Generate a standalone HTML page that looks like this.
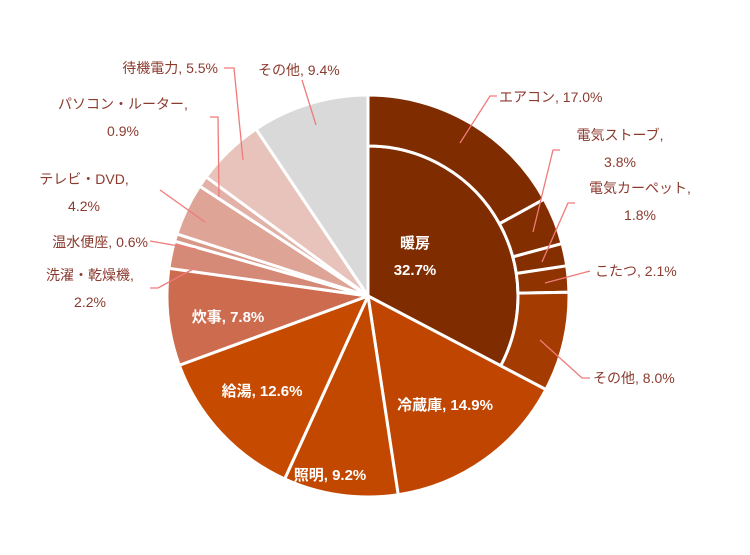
<!DOCTYPE html>
<html><head><meta charset="utf-8"><style>
body{margin:0;background:#fff;}
svg text{font-family:"Liberation Sans","Noto Sans CJK JP",sans-serif;font-size:14px;}
.o{fill:#8b3a2e;}
.i{fill:#fff;font-weight:bold;font-size:15px;}
.l{stroke:#f07a7a;stroke-width:1.3;fill:none;}
</style></head><body>
<svg id="c" width="750" height="550"></svg>
<script>
const categories=["暖房","冷蔵庫","照明","給湯","炊事","洗濯・乾燥機","温水便座","テレビ・DVD","パソコン・ルーター","待機電力","その他"];
const values=[32.7,14.9,9.2,12.6,7.8,2.2,0.6,4.2,0.9,5.5,9.4];
const colors=["#7f2c00","#bf4500","#c24800","#c64a00","#cd6b4f","#d58a78","#d89888","#dea496","#e2b2a8","#e8c3bc","#d9d9d9"];
const subCategories=["エアコン","電気ストーブ","電気カーペット","こたつ","その他"];
const subValues=[17.0,3.8,1.8,2.1,8.0];
const subColors=["#7f2c00","#822e00","#852f00","#8f3300","#a43b00"];
const cx=368,cy=296,R=201,r0=150;
const svg=document.getElementById('c');
const NS="http://www.w3.org/2000/svg";
function ang(p){return p/100*2*Math.PI-Math.PI/2;}
function pt(a,r){return [cx+r*Math.cos(a),cy+r*Math.sin(a)];}
function sector(a0,a1,ri,ro){
  const lg=(a1-a0)>Math.PI?1:0;
  const p0=pt(a0,ro),p1=pt(a1,ro);
  if(ri<=0)return `M${cx},${cy}L${p0}A${ro},${ro} 0 ${lg} 1 ${p1}Z`;
  const q0=pt(a1,ri),q1=pt(a0,ri);
  return `M${p0}A${ro},${ro} 0 ${lg} 1 ${p1}L${q0}A${ri},${ri} 0 ${lg} 0 ${q1}Z`;
}
function add(tag,attrs,txt){const e=document.createElementNS(NS,tag);for(const k in attrs)e.setAttribute(k,attrs[k]);if(txt!=null)e.textContent=txt;svg.appendChild(e);return e;}
let cum=0;
values.forEach((v,i)=>{
  const a0=ang(cum),a1=ang(cum+v);cum+=v;
  const ro=i===0?r0:R;
  const e=add('path',{d:sector(a0,a1,0,ro),fill:colors[i],stroke:'#fff','stroke-width':3,'stroke-linejoin':'round'});
  
  
});
cum=0;
subValues.forEach((v,i)=>{
  const a0=ang(cum),a1=ang(cum+v);cum+=v;
  const e=add('path',{d:sector(a0,a1,r0,R),fill:subColors[i],stroke:'#fff','stroke-width':3});
  
  
});
// leader lines
const leaders=[
 "M460,143L490,96L497,96","M533,232L553,150L560,150","M542,262L568,203L575,203","M545,283L590,271",
 "M540,340L582,378L590,378","M243,160L234,68L224,68","M316,125L302,80","M219,197L218,117L210,117",
 "M205,222L160,190","M196,249L150,241","M195,268L158,288L150,288"];
leaders.forEach((d,i)=>{const e=add('path',{d:d,class:'l'});
  
  });
const labels=[
 ["o",499,102,"エアコン, 17.0%","start"],["o",620,140,"電気ストーブ,","middle"],["o",620,167,"3.8%","middle"],
 ["o",640,193,"電気カーペット,","middle"],["o",640,220,"1.8%","middle"],["o",595,276,"こたつ, 2.1%","start"],
 ["o",593,383,"その他, 8.0%","start"],["o",218,73,"待機電力, 5.5%","end"],["o",258,75,"その他, 9.4%","start"],
 ["o",123,109,"パソコン・ルーター,","middle"],["o",123,136,"0.9%","middle"],["o",84,184,"テレビ・DVD,","middle"],
 ["o",84,211,"4.2%","middle"],["o",148,247,"温水便座, 0.6%","end"],["o",90,280,"洗濯・乾燥機,","middle"],["o",90,307,"2.2%","middle"],
 ["i",415,248,"暖房","middle"],["i",415,275,"32.7%","middle"],["i",445,410,"冷蔵庫, 14.9%","middle"],
 ["i",330,480,"照明, 9.2%","middle"],["i",262,396,"給湯, 12.6%","middle"],["i",228,322,"炊事, 7.8%","middle"]];
labels.forEach((l,i)=>{const e=add('text',{class:l[0],x:l[1],y:l[2],'text-anchor':l[4]},l[3]);
  
  });
</script>
</body></html>
